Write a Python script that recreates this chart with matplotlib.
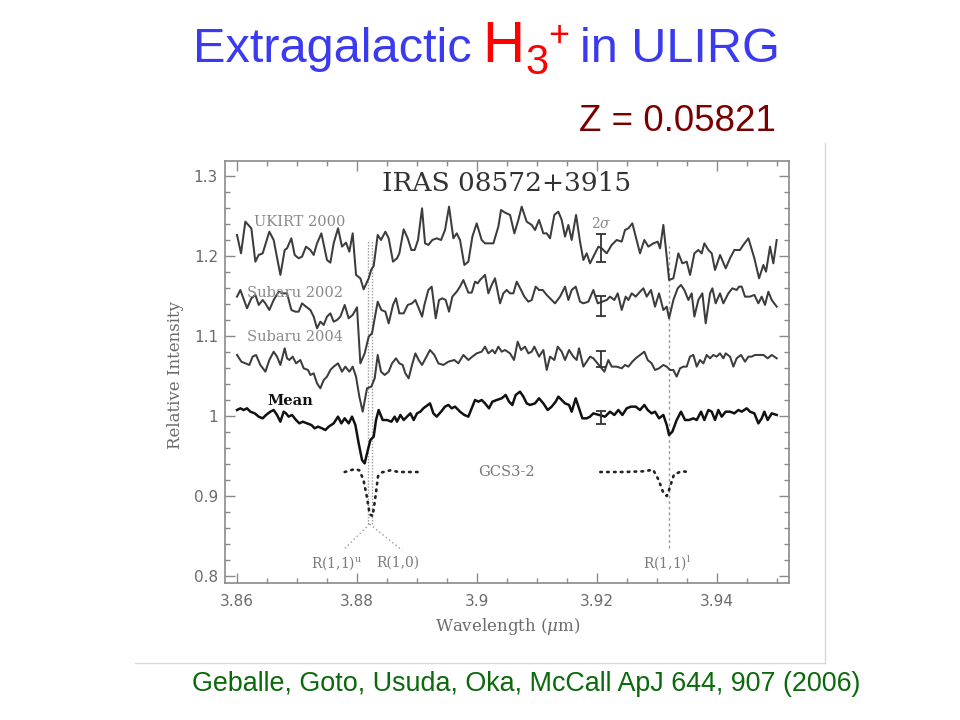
import matplotlib
matplotlib.use("Agg")
import matplotlib.pyplot as plt
from matplotlib.lines import Line2D
from matplotlib.ticker import FixedLocator, FixedFormatter, MultipleLocator

# ---------------- data ----------------
ukirt_wl = [3.86005, 3.86072, 3.86144, 3.86244, 3.86311, 3.86366, 3.86433, 3.86544, 3.86616, 3.86728,
            3.86800, 3.86839, 3.86911, 3.86966, 3.87033, 3.87089, 3.87155, 3.87228, 3.87283, 3.87339,
            3.87411, 3.87505, 3.87561, 3.87616, 3.87689, 3.87755, 3.87822, 3.87878, 3.87933, 3.87989,
            3.88061, 3.88116, 3.88200, 3.88244, 3.88283, 3.88350, 3.88405, 3.88478, 3.88533, 3.88605,
            3.88672, 3.88711, 3.88783, 3.88850, 3.88911, 3.88966, 3.89022, 3.89089,
            3.89139, 3.89194, 3.89261, 3.89333, 3.89406, 3.89472, 3.89539, 3.89611, 3.89667, 3.89722,
            3.89794, 3.89861, 3.89928, 3.90000, 3.90083, 3.90139, 3.90278, 3.90361, 3.90406, 3.90472,
            3.90556, 3.90628, 3.90694, 3.90750, 3.90833, 3.90917, 3.90972, 3.91039, 3.91111, 3.91167,
            3.91222, 3.91294, 3.91361, 3.91417, 3.91472, 3.91528, 3.91583, 3.91656, 3.91722, 3.91778,
            3.91833, 3.91889, 3.91972, 3.92028, 3.92083,
            3.92167, 3.92250, 3.92333, 3.92417, 3.92472, 3.92528, 3.92594, 3.92650, 3.92722, 3.92794,
            3.92861, 3.92944, 3.93017, 3.93056, 3.93111, 3.93167, 3.93206, 3.93278, 3.93361, 3.93428,
            3.93500, 3.93556, 3.93628, 3.93694, 3.93750, 3.93794, 3.93861, 3.93917, 3.93972, 3.94056,
            3.94150, 3.94222, 3.94294, 3.94389, 3.94444, 3.94528, 3.94628, 3.94706, 3.94778, 3.94822,
            3.94889, 3.94944, 3.95000]
ukirt_int = [1.2263, 1.2033, 1.2429, 1.2346, 1.1929, 1.2013, 1.2033, 1.2304, 1.2200, 1.1763,
             1.2075, 1.2096, 1.2221, 1.2013, 1.1971, 1.1992, 1.2117, 1.2075, 1.2013, 1.2158,
             1.2283, 1.1950, 1.1917, 1.2158, 1.2346, 1.2117, 1.2167, 1.2054, 1.2283, 1.1763,
             1.1721, 1.1583, 1.1721, 1.1833, 1.1875, 1.2263, 1.2200, 1.2304, 1.2221, 1.1929,
             1.1971, 1.2033, 1.2333, 1.2221, 1.2075, 1.2075, 1.2200, 1.2596,
             1.2158, 1.2138, 1.2200, 1.2221, 1.2200, 1.2325, 1.2617, 1.2221, 1.2283, 1.2200,
             1.1888, 1.1929, 1.2242, 1.2408, 1.2200, 1.2158, 1.2158, 1.2367, 1.2575, 1.2542,
             1.2513, 1.2283, 1.2450, 1.2617, 1.2429, 1.2388, 1.2325, 1.2450, 1.2283, 1.2283,
             1.2221, 1.2513, 1.2554, 1.2450, 1.2242, 1.2388, 1.2200, 1.2513, 1.2179, 1.1950,
             1.2033, 1.1908, 1.2033, 1.2117, 1.2096,
             1.2033, 1.2138, 1.2200, 1.2179, 1.2325, 1.2346, 1.2408, 1.2242, 1.2033, 1.2200,
             1.2117, 1.2158, 1.2179, 1.2096, 1.2388, 1.1992, 1.1700, 1.1721, 1.2033, 1.1908,
             1.1929, 1.1763, 1.2033, 1.2075, 1.2033, 1.2158, 1.2075, 1.2033, 1.1825, 1.2013,
             1.1846, 1.1971, 1.2075, 1.2075, 1.2138, 1.2221, 1.1971, 1.1721, 1.1888, 1.1804,
             1.2117, 1.1908, 1.2200]

subaru2002_wl = [3.86005, 3.86061, 3.86172, 3.86244, 3.86311, 3.86367, 3.86433, 3.86478, 3.86544, 3.86616,
                 3.86700, 3.86767, 3.86839, 3.86911, 3.86978, 3.87033, 3.87089, 3.87155, 3.87228, 3.87283,
                 3.87339, 3.87394, 3.87450, 3.87505, 3.87561, 3.87616, 3.87672, 3.87728, 3.87800, 3.87866,
                 3.87933, 3.88005, 3.88061, 3.88133, 3.88200, 3.88255, 3.88350, 3.88411, 3.88478, 3.88533,
                 3.88605, 3.88655, 3.88711, 3.88783, 3.88850, 3.88922, 3.88978, 3.89090,
                 3.89128, 3.89194, 3.89250, 3.89317, 3.89372, 3.89428, 3.89483, 3.89539, 3.89594, 3.89667,
                 3.89722, 3.89778, 3.89861, 3.89917, 3.89972, 3.90017, 3.90055, 3.90139, 3.90194, 3.90250,
                 3.90305, 3.90389, 3.90444, 3.90500, 3.90555, 3.90611, 3.90667, 3.90739, 3.90794, 3.90861,
                 3.90917, 3.90983, 3.91039, 3.91100, 3.91167, 3.91250, 3.91305, 3.91389, 3.91472, 3.91528,
                 3.91583, 3.91650, 3.91722, 3.91778, 3.91861, 3.91944, 3.92017,
                 3.92167, 3.92222, 3.92294, 3.92350, 3.92417, 3.92483, 3.92528, 3.92583, 3.92650, 3.92722,
                 3.92778, 3.92833, 3.92905, 3.92972, 3.93039, 3.93111, 3.93167, 3.93206, 3.93278, 3.93350,
                 3.93405, 3.93461, 3.93528, 3.93583, 3.93628, 3.93694, 3.93761, 3.93817, 3.93889, 3.93928,
                 3.93983, 3.94055, 3.94111, 3.94194, 3.94261, 3.94333, 3.94372, 3.94417, 3.94472, 3.94555,
                 3.94628, 3.94694, 3.94750, 3.94805, 3.94861, 3.94917, 3.95000]
subaru2002_int = [1.1492, 1.1575, 1.1346, 1.1471, 1.1513, 1.1388, 1.1450, 1.1408, 1.1325, 1.1450,
                  1.1554, 1.1533, 1.1533, 1.1325, 1.1304, 1.1304, 1.1408, 1.1367, 1.1325, 1.1242,
                  1.1096, 1.1179, 1.1138, 1.1242, 1.1283, 1.1179, 1.1200, 1.1242, 1.1388, 1.1221,
                  1.1263, 1.1358, 1.0658, 1.0783, 1.0992, 1.1033, 1.1429, 1.1325, 1.1304, 1.1158,
                  1.1388, 1.1471, 1.1283, 1.1283, 1.1388, 1.1408, 1.1450, 1.1242,
                  1.1388, 1.1575, 1.1617, 1.1221, 1.1450, 1.1471, 1.1450, 1.1304, 1.1492, 1.1554,
                  1.1617, 1.1700, 1.1542, 1.1542, 1.1679, 1.1658, 1.1700, 1.1763, 1.1533, 1.1638,
                  1.1721, 1.1408, 1.1533, 1.1575, 1.1533, 1.1533, 1.1679, 1.1575, 1.1492, 1.1429,
                  1.1450, 1.1617, 1.1575, 1.1575, 1.1513, 1.1450, 1.1408, 1.1492, 1.1617, 1.1450,
                  1.1575, 1.1617, 1.1429, 1.1408, 1.1429, 1.1575, 1.1408,
                  1.1450, 1.1492, 1.1450, 1.1533, 1.1325, 1.1492, 1.1450, 1.1533, 1.1492, 1.1554,
                  1.1596, 1.1492, 1.1575, 1.1367, 1.1533, 1.1325, 1.1367, 1.1221, 1.1450, 1.1596,
                  1.1638, 1.1575, 1.1450, 1.1533, 1.1242, 1.1450, 1.1533, 1.1158, 1.1533, 1.1596,
                  1.1408, 1.1533, 1.1408, 1.1533, 1.1596, 1.1575, 1.1617, 1.1617, 1.1492, 1.1492,
                  1.1513, 1.1408, 1.1492, 1.1388, 1.1554, 1.1450, 1.1367]

subaru2004_wl = [3.86005, 3.86078, 3.86144, 3.86211, 3.86266, 3.86322, 3.86394, 3.86478, 3.86544, 3.86616,
                 3.86672, 3.86728, 3.86800, 3.86839, 3.86878, 3.86933, 3.86989, 3.87061, 3.87116, 3.87189,
                 3.87228, 3.87283, 3.87339, 3.87394, 3.87450, 3.87505, 3.87561, 3.87616, 3.87689, 3.87755,
                 3.87811, 3.87878, 3.87933, 3.87989, 3.88044, 3.88100, 3.88172, 3.88244, 3.88300, 3.88350,
                 3.88405, 3.88466, 3.88533, 3.88589, 3.88655, 3.88711, 3.88766, 3.88811, 3.88866, 3.88922,
                 3.88978, 3.89033, 3.89089,
                 3.89222, 3.89294, 3.89361, 3.89444, 3.89528, 3.89628, 3.89694, 3.89778, 3.89861,
                 3.89928, 3.90000, 3.90083, 3.90139, 3.90194, 3.90261, 3.90305, 3.90361, 3.90417, 3.90472,
                 3.90555, 3.90622, 3.90683, 3.90739, 3.90805, 3.90861, 3.90917, 3.90961, 3.91039, 3.91111,
                 3.91167, 3.91222, 3.91294, 3.91350, 3.91417, 3.91472, 3.91539, 3.91611, 3.91666, 3.91705,
                 3.91778, 3.91833, 3.91889, 3.91944,
                 3.92128, 3.92194, 3.92250, 3.92333, 3.92417, 3.92472, 3.92528, 3.92594, 3.92650, 3.92722,
                 3.92794, 3.92850, 3.92916, 3.92972, 3.93039, 3.93111, 3.93167, 3.93222, 3.93278, 3.93333,
                 3.93389, 3.93444, 3.93500, 3.93555, 3.93611, 3.93667, 3.93722, 3.93778, 3.93833, 3.93889,
                 3.93944, 3.94000, 3.94055, 3.94111, 3.94150, 3.94222, 3.94278, 3.94333, 3.94405, 3.94472,
                 3.94528, 3.94583, 3.94639, 3.94705, 3.94778, 3.94850, 3.94917, 3.95000]
subaru2004_int = [1.0763, 1.0679, 1.0658, 1.0638, 1.0742, 1.0763, 1.0638, 1.0554, 1.0700, 1.0804,
                  1.0742, 1.0638, 1.0846, 1.0721, 1.0700, 1.0742, 1.0658, 1.0700, 1.0596, 1.0575,
                  1.0513, 1.0533, 1.0408, 1.0346, 1.0450, 1.0492, 1.0575, 1.0617, 1.0658, 1.0554,
                  1.0617, 1.0554, 1.0617, 1.0492, 1.0242, 1.0054, 1.0346, 1.0367, 1.0471, 1.0763,
                  1.0554, 1.0513, 1.0554, 1.0658, 1.0721, 1.0658, 1.0638, 1.0533, 1.0471, 1.0638,
                  1.0783, 1.0700, 1.0638,
                  1.0825, 1.0763, 1.0658, 1.0638, 1.0679, 1.0700, 1.0658, 1.0763, 1.0700,
                  1.0742, 1.0783, 1.0804, 1.0867, 1.0783, 1.0825, 1.0783, 1.0867, 1.0804, 1.0825,
                  1.0783, 1.0700, 1.0929, 1.0825, 1.0867, 1.0783, 1.0804, 1.0867, 1.0742, 1.0825,
                  1.0575, 1.0742, 1.0700, 1.0867, 1.0804, 1.0700, 1.0825, 1.0742, 1.0700, 1.0846,
                  1.0617, 1.0679, 1.0742, 1.0721,
                  1.0554, 1.0700, 1.0617, 1.0617, 1.0596, 1.0638, 1.0617, 1.0679, 1.0721, 1.0763,
                  1.0804, 1.0700, 1.0658, 1.0575, 1.0596, 1.0638, 1.0617, 1.0575, 1.0575, 1.0492,
                  1.0596, 1.0617, 1.0617, 1.0742, 1.0763, 1.0617, 1.0700, 1.0658, 1.0763, 1.0721,
                  1.0763, 1.0742, 1.0783, 1.0721, 1.0783, 1.0742, 1.0617, 1.0721, 1.0763, 1.0679,
                  1.0742, 1.0742, 1.0763, 1.0763, 1.0763, 1.0721, 1.0763, 1.0721]

mean_wl = [3.86005, 3.86061, 3.86116, 3.86172, 3.86228, 3.86300, 3.86367, 3.86433, 3.86489, 3.86561,
           3.86616, 3.86672, 3.86728, 3.86783, 3.86822, 3.86866, 3.86922, 3.86989, 3.87044, 3.87100,
           3.87172, 3.87244, 3.87300, 3.87355, 3.87422, 3.87478, 3.87533, 3.87616, 3.87689, 3.87744,
           3.87800, 3.87866, 3.87922, 3.87978, 3.88033, 3.88089, 3.88133, 3.88172, 3.88228, 3.88283,
           3.88322, 3.88366, 3.88433, 3.88505, 3.88578, 3.88633, 3.88672, 3.88728, 3.88783, 3.88839,
           3.88894, 3.88950, 3.89005, 3.89061,
           3.89111, 3.89222, 3.89278, 3.89333, 3.89406, 3.89472, 3.89528, 3.89583, 3.89639, 3.89722,
           3.89794, 3.89861, 3.89928, 3.89972, 3.90028, 3.90083, 3.90139, 3.90205, 3.90261, 3.90333,
           3.90417, 3.90483, 3.90539, 3.90594, 3.90650, 3.90722, 3.90778, 3.90833, 3.90889, 3.90972,
           3.91039, 3.91111, 3.91183, 3.91250, 3.91316, 3.91361, 3.91417, 3.91472, 3.91539, 3.91583,
           3.91650, 3.91705, 3.91761, 3.91833, 3.91889, 3.91944,
           3.92139, 3.92222, 3.92294, 3.92361, 3.92428, 3.92500, 3.92572, 3.92650, 3.92722, 3.92794,
           3.92850, 3.92916, 3.92972, 3.93039, 3.93111, 3.93167, 3.93206, 3.93261, 3.93333, 3.93405,
           3.93472, 3.93539, 3.93611, 3.93667, 3.93739, 3.93794, 3.93861, 3.93917, 3.93972, 3.94028,
           3.94083, 3.94150, 3.94222, 3.94294, 3.94361, 3.94417, 3.94500, 3.94555, 3.94628, 3.94694,
           3.94750, 3.94794, 3.94850, 3.94917, 3.95000]
mean_int = [1.0075, 1.0096, 1.0075, 1.0096, 1.0054, 1.0033, 0.9992, 0.9971, 1.0013, 1.0054,
            1.0075, 1.0013, 0.9929, 1.0054, 1.0033, 0.9992, 1.0013, 0.9950, 0.9908, 0.9929,
            0.9908, 0.9888, 0.9846, 0.9867, 0.9846, 0.9825, 0.9867, 0.9908, 0.9992, 0.9908,
            0.9971, 0.9908, 0.9992, 0.9888, 0.9658, 0.9450, 0.9408, 0.9533, 0.9700, 0.9742,
            0.9950, 1.0075, 0.9950, 0.9950, 0.9929, 0.9992, 0.9929, 1.0013, 0.9950, 0.9992,
            1.0033, 0.9950, 1.0033, 1.0054,
            1.0096, 1.0158, 1.0033, 0.9992, 1.0054, 1.0117, 1.0138, 1.0096, 1.0117, 1.0054,
            1.0013, 0.9992, 1.0117, 1.0200, 1.0179, 1.0200, 1.0158, 1.0096, 1.0179, 1.0200,
            1.0221, 1.0263, 1.0179, 1.0138, 1.0263, 1.0304, 1.0242, 1.0158, 1.0138, 1.0158,
            1.0221, 1.0158, 1.0075, 1.0117, 1.0179, 1.0242, 1.0200, 1.0158, 1.0138, 1.0054,
            1.0221, 1.0096, 0.9971, 0.9971, 0.9992, 1.0033,
            0.9992, 1.0054, 1.0013, 1.0075, 1.0013, 1.0096, 1.0117, 1.0117, 1.0075, 1.0138,
            1.0075, 1.0033, 1.0054, 0.9971, 1.0013, 0.9888, 0.9763, 0.9804, 0.9950, 1.0054,
            0.9950, 0.9950, 0.9971, 0.9950, 1.0054, 0.9950, 1.0075, 1.0054, 0.9950, 1.0075,
            0.9992, 1.0054, 1.0054, 1.0033, 1.0075, 1.0054, 1.0096, 1.0054, 1.0033, 0.9908,
            0.9971, 1.0054, 0.9950, 1.0033, 1.0013]

# GCS3-2 comparison spectrum (two segments)
gcs_a_wl = [3.87800, 3.87973, 3.88043, 3.88112, 3.88167, 3.88217, 3.88265, 3.88307, 3.88355, 3.88423,
            3.88562, 3.88702, 3.89082]
gcs_a_int = [0.9300, 0.9338, 0.9321, 0.9205, 0.8999, 0.8771, 0.8750, 0.8958, 0.9246, 0.9296,
             0.9321, 0.9300, 0.9300]
gcs_b_wl = [3.92060, 3.92442, 3.92788, 3.92940, 3.93030, 3.93100, 3.93168, 3.93217, 3.93287, 3.93412,
            3.93550]
gcs_b_int = [0.9300, 0.9300, 0.9309, 0.9329, 0.9205, 0.9060, 0.8999, 0.9101, 0.9268, 0.9309, 0.9300]

# H3+ line markers: R(1,1)u, R(1,0), R(1,1)l
line_wl = [3.8818, 3.8825, 3.9321]
line_top = [1.220, 1.220, 1.212]
line_bottom = [0.865, 0.865, 0.835]
label_wl = [3.8777, 3.8876]          # ends of the connecting dotted lines
label_int = 0.832

# 2-sigma error bars
err_wl = 3.9208
err_center = [1.2096, 1.1375, 1.0717, 0.9983]
err_half = [0.0177, 0.0125, 0.0100, 0.0083]

xticks = [3.86, 3.88, 3.90, 3.92, 3.94]
xtick_labels = ["3.86", "3.88", "3.9", "3.92", "3.94"]
yticks = [0.8, 0.9, 1.0, 1.1, 1.2, 1.3]
ytick_labels = ["0.8", "0.9", "1", "1.1", "1.2", "1.3"]

# ---------------- figure ----------------
W, H = 960, 720
plt.rcParams["mathtext.fontset"] = "dejavuserif"
fig = plt.figure(figsize=(9.6, 7.2), dpi=100)
fig.patch.set_facecolor("white")


def fx(x):
    return x / W


def fy(y):
    return 1 - y / H


# light frame around the embedded figure
fig.add_artist(Line2D([fx(825), fx(825)], [fy(143), fy(663)], color="#d9d9d9", lw=1.0))
fig.add_artist(Line2D([fx(135), fx(825)], [fy(663), fy(663)], color="#d9d9d9", lw=1.0))

ax = fig.add_axes([fx(225), fy(582.5), (789.3 - 225) / W, (582.5 - 160.7) / H])
ax.set_xlim(3.85805, 3.9521)
ax.set_ylim(0.7919, 1.3191)

serif = "DejaVu Serif"
gray_txt = "#6a6a6a"

ax.plot(ukirt_wl, ukirt_int, color="#3c3c3c", lw=1.45, zorder=3)
ax.plot(subaru2002_wl, subaru2002_int, color="#3c3c3c", lw=1.45, zorder=3)
ax.plot(subaru2004_wl, subaru2004_int, color="#3c3c3c", lw=1.45, zorder=3)
ax.plot(mean_wl, mean_int, color="#111111", lw=1.8, zorder=3)

ax.plot(gcs_a_wl, gcs_a_int, color="#222222", lw=1.9, ls=(0, (0.6, 2.0)),
        dash_capstyle="round", zorder=3)
ax.plot(gcs_b_wl, gcs_b_int, color="#222222", lw=1.9, ls=(0, (0.6, 2.0)),
        dash_capstyle="round", zorder=3)

ax.vlines(line_wl[:2], line_bottom[:2], line_top[:2], colors="#9a9a9a", lw=1.0,
          linestyles=[(0, (1.0, 1.2))], zorder=2)
ax.vlines(line_wl[2:], line_bottom[2:], line_top[2:], colors="#9a9a9a", lw=1.0,
          linestyles=[(0, (2.0, 2.0))], zorder=2)
conv_wl = (line_wl[0] + line_wl[1]) / 2
for lw_end in label_wl:
    ax.plot([conv_wl, lw_end], [line_bottom[0], label_int], color="#9a9a9a", lw=1.0,
            ls=(0, (1.0, 2.0)), zorder=2)

ax.errorbar([err_wl] * len(err_center), err_center, yerr=err_half, fmt="none",
            ecolor="#333333", elinewidth=1.3, capsize=3.4, capthick=1.3, zorder=4)

# texts inside the panel
ax.text(3.90497, 1.291, "IRAS 08572+3915", family=serif, fontsize=19, color="#333333",
        ha="center", va="center")
ax.text(3.86283, 1.243, "UKIRT 2000", family=serif, fontsize=10.5, color="#8a8a8a",
        ha="left", va="center")
ax.text(3.8617, 1.1534, "Subaru 2002", family=serif, fontsize=10.5, color="#8a8a8a",
        ha="left", va="center")
ax.text(3.8617, 1.0992, "Subaru 2004", family=serif, fontsize=10.5, color="#8a8a8a",
        ha="left", va="center")
ax.text(3.8651, 1.0192, "Mean", family=serif, fontsize=10.5, color="#111111",
        fontweight="bold", ha="left", va="center")
ax.text(3.9049, 0.930, "GCS3-2", family=serif, fontsize=10.5, color="#777777",
        ha="center", va="center")
ax.text(err_wl, 1.241, r"2$\sigma$", family=serif, fontsize=10, color="#8a8a8a",
        ha="center", va="center")
ax.text(3.8724, 0.8166, r"R(1,1)$^{\rm u}$", family=serif, fontsize=10, color="#7a7a7a",
        ha="left", va="center")
ax.text(3.88333, 0.8166, "R(1,0)", family=serif, fontsize=10, color="#7a7a7a",
        ha="left", va="center")
ax.text(3.92772, 0.8166, r"R(1,1)$^{\rm l}$", family=serif, fontsize=10, color="#7a7a7a",
        ha="left", va="center")

# axes styling
ax.xaxis.set_major_locator(FixedLocator(xticks))
ax.xaxis.set_major_formatter(FixedFormatter(xtick_labels))
ax.yaxis.set_major_locator(FixedLocator(yticks))
ax.yaxis.set_major_formatter(FixedFormatter(ytick_labels))
ax.xaxis.set_minor_locator(MultipleLocator(0.005))
ax.yaxis.set_minor_locator(MultipleLocator(0.02))
ax.tick_params(which="both", direction="in", top=True, right=True, colors="#8a8a8a")
ax.tick_params(which="major", length=7, width=1.0)
ax.tick_params(which="minor", length=3.5, width=1.0)
ax.tick_params(axis="x", which="major", pad=8, labelsize=11, labelcolor=gray_txt)
ax.tick_params(axis="y", which="major", pad=5, labelsize=11, labelcolor=gray_txt)
for sp in ax.spines.values():
    sp.set_color("#8a8a8a")
    sp.set_linewidth(1.2)

ax.set_ylabel("Relative Intensity", family=serif, fontsize=12, color=gray_txt, va="center")
ax.yaxis.set_label_coords(-0.0886, 0.492)
ax.set_xlabel(r"Wavelength ($\mu$m)", family=serif, fontsize=12, color=gray_txt, va="center")
ax.xaxis.set_label_coords(0.5015, -0.1055)

# slide title and annotations
sans = "Liberation Sans"
blue = "#3a3af0"
red = "#ff0000"
fig.text(fx(193), fy(62), "Extragalactic", family=sans, fontsize=35, color=blue, va="baseline")
fig.text(fx(482), fy(62), "H", family=sans, fontsize=42, color=red, va="baseline")
fig.text(fx(525), fy(73.5), "3", family=sans, fontsize=30, color=red, va="baseline")
fig.text(fx(548), fy(46), "+", family=sans, fontsize=26, color=red, va="baseline")
fig.text(fx(580), fy(62), "in ULIRG", family=sans, fontsize=35, color=blue, va="baseline")
fig.text(fx(776), fy(131), "Z = 0.05821", family=sans, fontsize=26.5, color="#7a0000",
         ha="right", va="baseline")
fig.text(fx(192), fy(691), "Geballe, Goto, Usuda, Oka, McCall ApJ 644, 907 (2006)",
         family=sans, fontsize=19.4, color="#0a6a0a", va="baseline")

fig.savefig("out.png", dpi=100, facecolor="white")
